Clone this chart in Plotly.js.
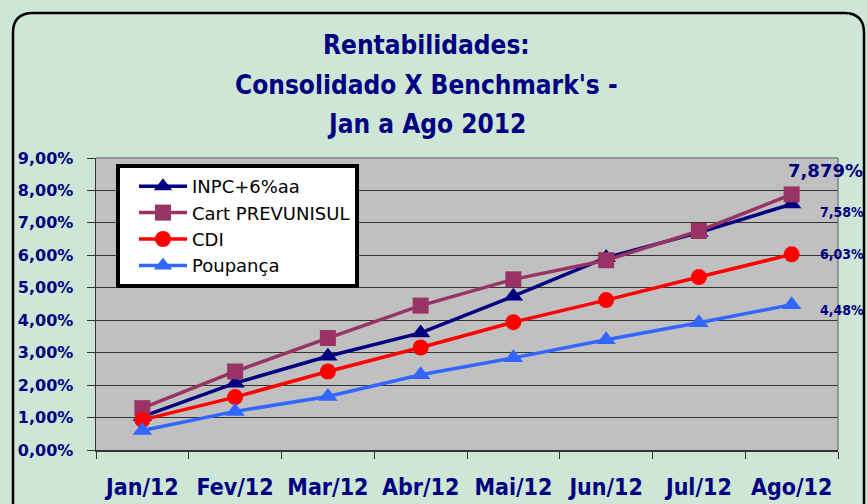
<!DOCTYPE html>
<html>
<head>
<meta charset="utf-8">
<script src="https://cdn.plot.ly/plotly-3.0.1.min.js"></script>
<style>html,body{margin:0;padding:0;background:#CDE6D5;}#chart{width:867px;height:504px;}</style>
</head>
<body>
<div id="chart"></div>
<script>
const months = ["Jan/12","Fev/12","Mar/12","Abr/12","Mai/12","Jun/12","Jul/12","Ago/12"];
const seriesNames = ["INPC+6%aa","Cart PREVUNISUL","CDI","Poupança"];
const inpc = [1.03, 2.06, 2.89, 3.61, 4.74, 5.93, 6.70, 7.58];
const cart = [1.29, 2.42, 3.45, 4.45, 5.26, 5.85, 6.75, 7.879];
const cdi  = [0.93, 1.63, 2.42, 3.16, 3.94, 4.62, 5.33, 6.03];
const poup = [0.60, 1.19, 1.65, 2.32, 2.84, 3.40, 3.92, 4.48];
const endLabels = ["7,58%","7,879%","6,03%","4,48%"];
const yTickVals = [0,1,2,3,4,5,6,7,8,9];
const yTickText = ["0,00%","1,00%","2,00%","3,00%","4,00%","5,00%","6,00%","7,00%","8,00%","9,00%"];
const titleLines = ["Rentabilidades:","Consolidado X Benchmark's -","Jan a Ago 2012"];

const W = 867, H = 504, L = 96, R = 29, T = 158, B = 54;
const pw = W - L - R, ph = H - T - B;
const px = x => (x - L) / pw;
const py = y => (H - B - y) / ph;

const navy = "#000080";
const narrow = "DejaVu Sans Condensed, sans-serif";

const defs = [
  {y: inpc, color: "#000080", symbol: "triangle-up", size: 17},
  {y: cart, color: "#993366", symbol: "square", size: 16},
  {y: cdi,  color: "#FF0000", symbol: "circle", size: 16},
  {y: poup, color: "#3366FF", symbol: "triangle-up", size: 17}
];
const traces = defs.map((d, i) => ({
  type: "scatter", mode: "lines+markers", name: seriesNames[i],
  x: months, y: d.y,
  line: {color: d.color, width: 3.5},
  marker: {color: d.color, symbol: d.symbol, size: d.size},
  hoverinfo: "none"
}));

const labelShifts = [
  {xs: 74, ys: -8, xa: "right"},
  {xs: 34, ys: 24, xa: "center"},
  {xs: 74, ys: 0, xa: "right"},
  {xs: 74, ys: -5, xa: "right"}
];
const annotations = [];
titleLines.forEach((t, i) => {
  annotations.push({
    xref: "paper", yref: "paper", x: px(426), y: py([45, 85, 124][i]),
    text: "<b>" + t + "</b>", showarrow: false, xanchor: "center", yanchor: "middle",
    font: {family: narrow, size: 26, color: navy}
  });
});
defs.forEach((d, i) => {
  annotations.push({
    xref: "x", yref: "y", x: months[months.length - 1], y: d.y[d.y.length - 1],
    text: "<b>" + endLabels[i] + "</b>", showarrow: false,
    xanchor: labelShifts[i].xa, yanchor: "middle",
    xshift: labelShifts[i].xs, yshift: labelShifts[i].ys,
    font: {family: i === 1 ? "DejaVu Sans, sans-serif" : narrow, size: i === 1 ? 18 : 14, color: navy}
  });
});

const bx0 = px(13), bx1 = px(864), by0 = py(13), byb = py(530);
const rx = 20 / pw, ry = 20 / ph;
const borderPath = `M ${bx0} ${byb} L ${bx0} ${by0 - ry} Q ${bx0} ${by0} ${bx0 + rx} ${by0} L ${bx1 - rx} ${by0} Q ${bx1} ${by0} ${bx1} ${by0 - ry} L ${bx1} ${byb}`;

const layout = {
  width: W, height: H,
  margin: {l: L, r: R, t: T, b: B, pad: 0},
  paper_bgcolor: "#CDE6D5",
  plot_bgcolor: "#C0C0C0",
  showlegend: true,
  legend: {
    x: px(116), y: py(164), xanchor: "left", yanchor: "top",
    bgcolor: "#FFFFFF", bordercolor: "#000000", borderwidth: 4,
    font: {family: "DejaVu Sans, sans-serif", size: 18, color: "#000000"},
    itemwidth: 48, tracegroupgap: 0, indentation: 14
  },
  xaxis: {
    type: "category", range: [-0.5, 7.5],
    showgrid: false, zeroline: false,
    showline: true, linecolor: "#333333", linewidth: 1.5,
    ticks: "outside", tickson: "boundaries", ticklen: 7, tickcolor: "#333333",
    ticklabelstandoff: 16,
    tickfont: {family: narrow, size: 23, color: navy, weight: "bold"},
    fixedrange: true
  },
  yaxis: {
    range: [0, 9], tickvals: yTickVals, ticktext: yTickText,
    showgrid: true, gridcolor: "#333333", gridwidth: 1.2,
    zeroline: false,
    showline: true, linecolor: "#333333", linewidth: 1.5,
    ticks: "outside", ticklen: 8, tickcolor: "#333333",
    ticklabelstandoff: 10,
    tickfont: {family: "DejaVu Sans, sans-serif", size: 16, color: navy, weight: "bold"},
    fixedrange: true
  },
  shapes: [
    {type: "path", xref: "paper", yref: "paper", path: borderPath, line: {color: "#000000", width: 2.5}},
    {type: "line", xref: "paper", yref: "paper", x0: 0, x1: 1, y0: 1, y1: 1, line: {color: "#808080", width: 1.5}},
    {type: "line", xref: "paper", yref: "paper", x0: 1, x1: 1, y0: 0, y1: 1, line: {color: "#808080", width: 1.5}}
  ],
  annotations: annotations
};

Plotly.newPlot("chart", traces, layout, {displayModeBar: false, staticPlot: true});
</script>
</body>
</html>
